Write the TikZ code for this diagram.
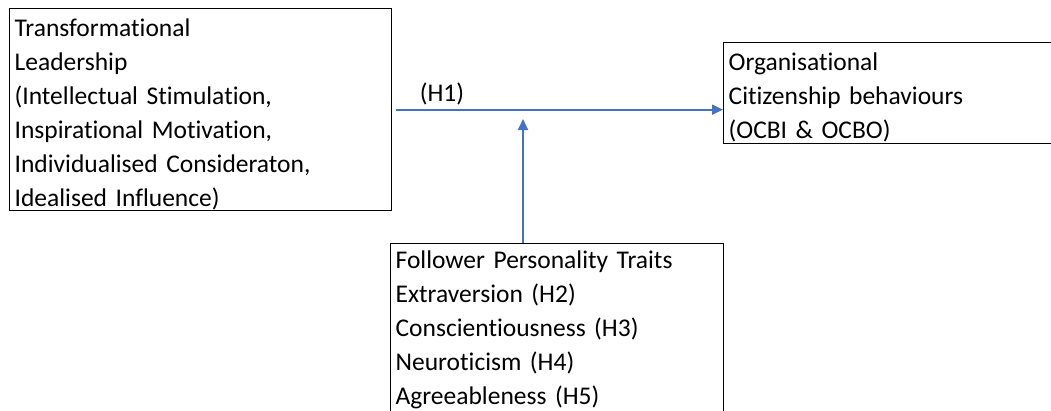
\documentclass[tikz,border=0pt]{standalone}
\usepackage{fontspec}
\setmainfont{Carlito}[Ligatures=NoCommon,WordSpace=0.85]
\usetikzlibrary{arrows.meta}
\definecolor{arrowblue}{HTML}{4472C4}
\begin{document}
\begin{tikzpicture}[x=1pt,y=1pt,
  box/.style={draw=black,line width=1.3pt,rectangle,align=left,inner xsep=5pt,inner ysep=0pt,
    font=\fontsize{25.5}{34}\selectfont,anchor=north west},
  conn/.style={draw=arrowblue,line width=1.8pt,-{Triangle[length=11pt,width=10pt]}}]
\useasboundingbox (0,0) rectangle (1051,-410);
\clip (0,0) rectangle (1051,-410);
\node[box,minimum width=382pt,minimum height=202pt,text width=372pt] (tl) at (9,-8)
  {\rule{0pt}{27pt}Transformational\\Leadership\\(Intellectual Stimulation,\\Inspirational Motivation,\\Individualised Consideraton,\\Idealised Influence)};
\node[box,minimum width=340pt,minimum height=101pt,text width=330pt] (ocb) at (723,-42)
  {\rule{0pt}{27pt}Organisational\\Citizenship behaviours\\(OCBI \& OCBO)};
\node[box,minimum width=333pt,minimum height=172pt,text width=323pt] (fpt) at (390,-243)
  {Follower Personality Traits\\Extraversion (H2)\\Conscientiousness (H3)\\Neuroticism (H4)\\Agreeableness (H5)};
\coordinate (m) at (523,-119);
\node[font=\fontsize{25.5}{30}\selectfont,inner sep=0pt] (h1) at (442,-94) {(H1)};
\draw[conn,shorten <=4pt] (tl.east) -- (tl.east -| ocb.west);
\draw[conn] (fpt.north -| m) -- (m);
\end{tikzpicture}
\end{document}
